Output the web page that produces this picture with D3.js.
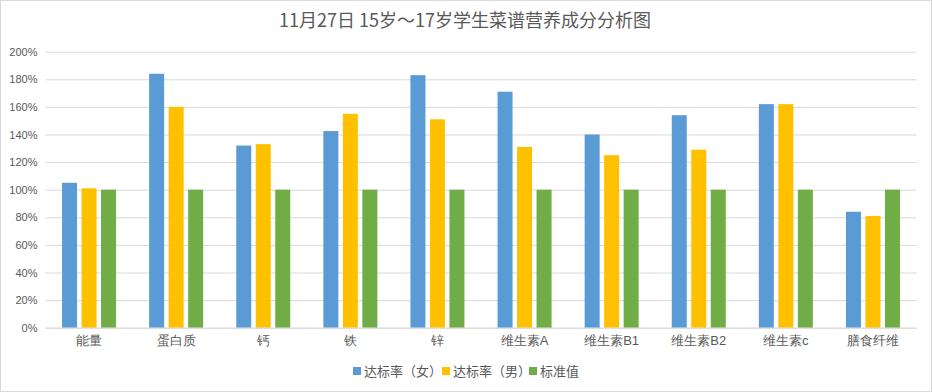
<!DOCTYPE html>
<html><head><meta charset="utf-8">
<script src="https://cdn.jsdelivr.net/npm/d3@7/dist/d3.min.js"></script>
<style>
html,body{margin:0;padding:0;background:#fff;}
svg{display:block;font-family:"Noto Sans CJK SC","Liberation Sans",sans-serif;}
</style></head><body>
<svg id="chart" width="932" height="392"></svg>
<script>
const title = "11月27日 15岁～17岁学生菜谱营养成分分析图";
const categories = ["能量","蛋白质","钙","铁","锌","维生素A","维生素B1","维生素B2","维生素c","膳食纤维"];
const seriesNames = ["达标率（女）","达标率（男）","标准值"];
const female = [105,184,132,142.5,183,171,140,154,162,84];
const male = [101,160,133,155,151,131,125,129,162,81];
const standard = [100,100,100,100,100,100,100,100,100,100];
const yTicks = [0,20,40,60,80,100,120,140,160,180,200];
const colors = ["#5B9BD5","#FFC000","#70AD47"];

(function(){
const seriesValues = [female, male, standard];
const svg = d3.select("#chart");
const W = 932, H = 392;
const pLeft = 45.5, pRight = 916.5, pTop = 51.7, pBottom = 327.7;

svg.append("rect").attr("x",0.5).attr("y",0.5).attr("width",W-1).attr("height",H-1)
  .attr("fill","#fff").attr("stroke","#d9d9d9");

const x = d3.scaleBand().domain(categories).range([pLeft,pRight]).padding(0);
const xs = d3.scaleBand().domain(seriesNames).range([-27,27]).paddingInner(0.2308).paddingOuter(0);
const y = d3.scaleLinear().domain([0,200]).range([pBottom,pTop]);

const gy = svg.append("g").attr("transform",`translate(${pLeft},0)`)
  .call(d3.axisLeft(y).tickValues(yTicks).tickSize(-(pRight-pLeft)).tickFormat(d=>d+"%").tickPadding(8));
gy.select(".domain").remove();
gy.selectAll(".tick line").attr("stroke","#d9d9d9").attr("stroke-width",1);
gy.selectAll(".tick text").attr("fill","#595959").style("font-family","'Liberation Sans',sans-serif").style("font-size","11px");

seriesNames.forEach((s,si)=>{
  svg.append("g").selectAll("rect").data(categories).join("rect")
    .attr("x",c=>x(c)+x.bandwidth()/2+xs(s))
    .attr("width",xs.bandwidth())
    .attr("y",(c,i)=>y(seriesValues[si][i]))
    .attr("height",(c,i)=>pBottom-y(seriesValues[si][i]))
    .attr("fill",colors[si]);
});

const gx = svg.append("g").attr("transform",`translate(0,${pBottom})`)
  .call(d3.axisBottom(x).tickSize(0).tickPadding(8));
gx.select(".domain").attr("stroke","#d9d9d9");
gx.selectAll(".tick text").attr("fill","#595959").style("font-size","13px");

svg.append("text").attr("x",465).attr("y",27).attr("text-anchor","middle")
  .attr("fill","#595959").style("font-size","18px").text(title);

const legendX = [353, 442, 529];
const lg = svg.append("g");
seriesNames.forEach((s,i)=>{
  lg.append("rect").attr("x",legendX[i]).attr("y",367).attr("width",8).attr("height",8).attr("fill",colors[i]);
  lg.append("text").attr("x",legendX[i]+11).attr("y",376).attr("fill","#595959").style("font-size","13px").text(s);
});
})();
</script>
</body></html>
